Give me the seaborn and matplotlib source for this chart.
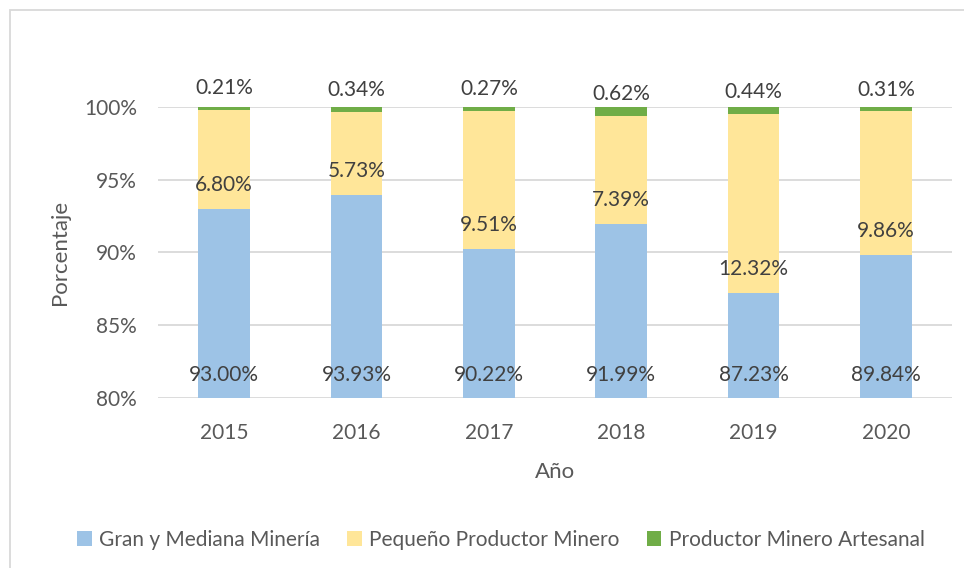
import matplotlib
matplotlib.use("Agg")
import matplotlib.pyplot as plt
import seaborn as sns
import pandas as pd
import numpy as np
from matplotlib.patches import Rectangle, Patch

years = ["2015", "2016", "2017", "2018", "2019", "2020"]
gran = [93.00, 93.93, 90.22, 91.99, 87.23, 89.84]
pequeno = [6.80, 5.73, 9.51, 7.39, 12.32, 9.86]
artesanal = [0.21, 0.34, 0.27, 0.62, 0.44, 0.31]
series_names = ["Gran y Mediana Minería", "Pequeño Productor Minero", "Productor Minero Artesanal"]
yticks = [80, 85, 90, 95, 100]

colors = ["#9DC3E6", "#FFE699", "#70AD47"]
txt_dark = "#404040"
txt_axis = "#595959"

sns.set_theme(style="white")
plt.rcParams['font.family'] = ['Lato', 'DejaVu Sans']

df = pd.DataFrame({"year": years, "gran": gran, "pequeno": pequeno, "artesanal": artesanal})
df["c1"] = df["gran"]
df["c2"] = df["gran"] + df["pequeno"]
df["c3"] = df["c2"] + df["artesanal"]

fig = plt.figure(figsize=(9.64, 5.68), dpi=100)
fig.patches.append(Rectangle((10/964, -0.1), 1.2, (568-10)/568 + 0.1, transform=fig.transFigure,
                             fill=False, edgecolor="#D9D9D9", linewidth=1.3))
ax = fig.add_axes([158/964, (568-398)/568, (952-158)/964, (398-107)/568])

w = 0.39
for col, c in zip(["c3", "c2", "c1"], colors[::-1]):
    sns.barplot(data=df, x="year", y=col, color=c, width=w, ax=ax, saturation=1, zorder=3, linewidth=0)

ax.set_ylim(80, 100)
ax.set_xlim(-0.5, 5.5)
ax.set_yticks(yticks)
ax.set_yticklabels([f"{v}%" for v in yticks])
ax.yaxis.grid(True, color="#D9D9D9", linewidth=1.3, zorder=0)
ax.set_axisbelow(True)
for s in ax.spines.values():
    s.set_visible(False)
fs = 15
ax.tick_params(axis="y", length=0, pad=15, labelsize=fs, labelcolor=txt_axis)
ax.tick_params(axis="x", length=0, pad=18, labelsize=fs, labelcolor=txt_axis)
ax.set_xlabel("Año", fontsize=16, color=txt_axis, labelpad=14)
ax.set_ylabel("Porcentaje", fontsize=16, color=txt_axis, labelpad=10)

for i in range(len(years)):
    ax.text(i, 81.6, f"{gran[i]:.2f}%", ha="center", va="center", fontsize=fs, color=txt_dark, zorder=5)
    ax.text(i, gran[i] + 1.65, f"{pequeno[i]:.2f}%", ha="center", va="center", fontsize=fs, color=txt_dark, zorder=5)
    ax.text(i, gran[i] + pequeno[i] + 1.5, f"{artesanal[i]:.2f}%", ha="center", va="center", fontsize=fs,
            color=txt_dark, zorder=5, clip_on=False)

handles = [Patch(facecolor=c, edgecolor="none") for c in colors]
fig.legend(handles, series_names, loc="center", bbox_to_anchor=(501/964, (568-540)/568), ncol=3,
           frameon=False, fontsize=fs, labelcolor=txt_axis, handlelength=0.7, handleheight=0.7,
           handletextpad=0.35, columnspacing=1.3)

fig.savefig("out.png", dpi=100)
